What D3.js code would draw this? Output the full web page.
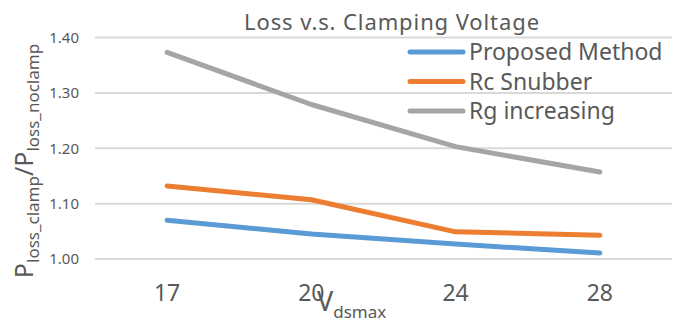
<!DOCTYPE html>
<html>
<head>
<meta charset="utf-8">
<script src="https://cdn.jsdelivr.net/npm/d3@7"></script>
<style>
	body { margin: 0; background: #fff; }
	svg { display: block; font-family: "Noto Sans", "Open Sans", sans-serif; }
	.grid line { stroke: #d9d9d9; stroke-width: 2; }
	.tick-label { fill: #595959; }
	.series { fill: none; stroke-width: 5; stroke-linecap: round; stroke-linejoin: round; }
</style>
</head>
<body>
<svg id="chart" width="691" height="326"></svg>
<script>
var voltages = ['17', '20', '24', '28'];
var proposed = [1.070, 1.045, 1.027, 1.011];
var rcSnubber = [1.132, 1.107, 1.049, 1.043];
var rgIncreasing = [1.373, 1.279, 1.203, 1.157];
var yTicks = [1.00, 1.10, 1.20, 1.30, 1.40];

var seriesNames = ['Proposed Method', 'Rc Snubber', 'Rg increasing'];
var seriesColors = ['#5b9bd5', '#ed7d31', '#a5a5a5'];
var series = [proposed, rcSnubber, rgIncreasing];

var svg = d3.select('#chart');

var x = d3.scaleBand()
	.domain(voltages)
	.range([95, 672]);
var y = d3.scaleLinear()
	.domain([1.0, 1.4])
	.range([259, 37.5]);

// horizontal gridlines
svg.append('g')
	.attr('class', 'grid')
	.selectAll('line')
	.data(yTicks)
	.enter()
	.append('line')
	.attr('x1', 95)
	.attr('x2', 672)
	.attr('y1', function(d){ return y(d) })
	.attr('y2', function(d){ return y(d) });

// y tick labels
svg.append('g')
	.selectAll('text')
	.data(yTicks)
	.enter()
	.append('text')
	.attr('class', 'tick-label')
	.attr('x', 79)
	.attr('y', function(d){ return y(d) })
	.attr('dy', '0.36em')
	.attr('text-anchor', 'end')
	.style('font-size', '15px')
	.text(function(d){ return d.toFixed(2) });

// x tick labels
svg.append('g')
	.selectAll('text')
	.data(voltages)
	.enter()
	.append('text')
	.attr('class', 'tick-label')
	.attr('x', function(d){ return x(d) + x.bandwidth() / 2 })
	.attr('y', 301)
	.attr('text-anchor', 'middle')
	.style('font-size', '23px')
	.text(function(d){ return d });

// series lines
var line = d3.line()
	.x(function(d, i){ return x(voltages[i]) + x.bandwidth() / 2 })
	.y(function(d){ return y(d) });

svg.append('g')
	.selectAll('path')
	.data(series)
	.enter()
	.append('path')
	.attr('class', 'series')
	.attr('stroke', function(d, i){ return seriesColors[i] })
	.attr('d', line);

// title
svg.append('text')
	.attr('x', 392)
	.attr('y', 30)
	.attr('text-anchor', 'middle')
	.attr('fill', '#595959')
	.style('font-size', '22px')
	.style('letter-spacing', '0.9px')
	.text('Loss v.s. Clamping Voltage');

// legend
var legend = svg.append('g')
	.selectAll('g')
	.data(seriesNames)
	.enter()
	.append('g')
	.attr('transform', function(d, i){ return 'translate(410,' + (52 + i * 29.5) + ')' });

legend.append('line')
	.attr('class', 'series')
	.attr('x1', 0)
	.attr('x2', 53)
	.attr('stroke', function(d, i){ return seriesColors[i] });

legend.append('text')
	.attr('x', 59)
	.attr('dy', '0.36em')
	.attr('fill', '#595959')
	.style('font-size', '23px')
	.text(function(d){ return d });

// y axis title, rotated
var yTitle = svg.append('text')
	.attr('transform', 'translate(33,161) rotate(-90)')
	.attr('text-anchor', 'middle')
	.attr('fill', '#595959')
	.style('font-size', '25px');
yTitle.append('tspan').text('P');
yTitle.append('tspan').attr('dy', 6).style('font-size', '17px').text('loss_clamp');
yTitle.append('tspan').attr('dy', -6).text('/P');
yTitle.append('tspan').attr('dy', 6).style('font-size', '17px').text('loss_noclamp');

// x axis title
var xTitle = svg.append('text')
	.attr('x', 317)
	.attr('y', 311)
	.attr('fill', '#595959')
	.style('font-size', '27px');
xTitle.append('tspan').text('V');
xTitle.append('tspan').attr('dy', 7).style('font-size', '17px').text('dsmax');
</script>
</body>
</html>
